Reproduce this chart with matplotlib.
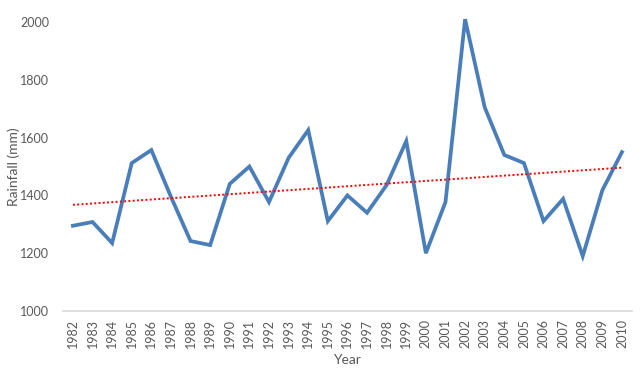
import numpy as np
import matplotlib
matplotlib.use("Agg")
import matplotlib.pyplot as plt

plt.rcParams['font.family'] = ['Lato', 'DejaVu Sans']

# Annual rainfall readings
years = list(range(1982, 2011))
rainfall = [1295, 1308, 1235, 1512, 1557, 1395, 1242, 1228, 1440, 1500,
            1377, 1530, 1626, 1311, 1400, 1340, 1436, 1588, 1200, 1377,
            2010, 1705, 1540, 1512, 1311, 1388, 1190, 1418, 1550]

TEXT = '#595959'

fig = plt.figure(figsize=(6.44, 3.68), dpi=100)
ax = fig.add_axes([0.098, 0.155, 0.883, 0.785])

ax.plot(years, rainfall, color='#4A7EBB', linewidth=2.7, clip_on=False,
        solid_joinstyle='miter')

# Linear trendline
coef = np.polyfit(years, rainfall, 1)
trend = np.polyval(coef, years)
ax.plot(years, trend, color='#FF0000', linestyle=(0, (1, 1.2)), linewidth=1.4)

ax.set_xlim(1981.5, 2010.5)
ax.set_ylim(1000, 2000)
ax.set_yticks(range(1000, 2001, 200))
ax.set_xticks(years)
ax.set_xticklabels([str(y) for y in years], rotation=90)

for s in ['top', 'right', 'left']:
    ax.spines[s].set_visible(False)
ax.spines['bottom'].set_color('#D9D9D9')
ax.spines['bottom'].set_linewidth(1.2)
ax.tick_params(axis='both', length=0, colors=TEXT, labelsize=9)
ax.tick_params(axis='y', pad=10)
ax.tick_params(axis='x', pad=6)

ax.set_ylabel('Rainfall (mm)', color=TEXT, fontsize=10)
ax.yaxis.set_label_coords(-0.076, 0.5)
ax.set_xlabel('Year', color=TEXT, fontsize=10, labelpad=4)

fig.savefig('out.png', dpi=100)
